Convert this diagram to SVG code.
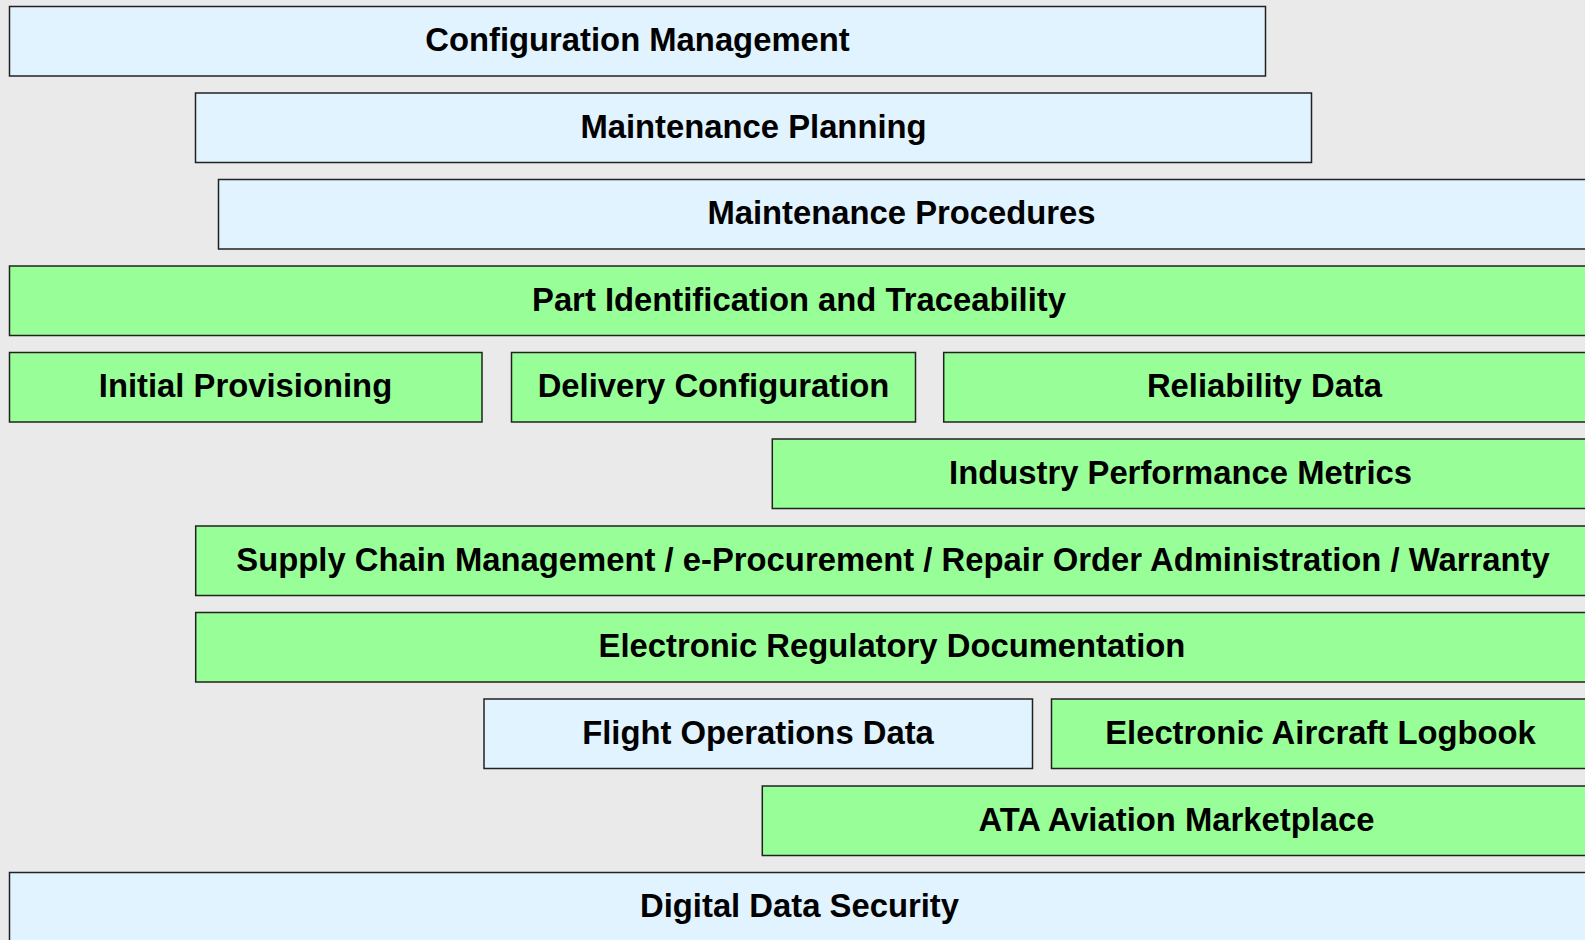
<svg xmlns="http://www.w3.org/2000/svg" width="1585" height="940" viewBox="0 0 1585 940">
<style>
.b{fill:#E0F3FE;stroke:#222;stroke-width:1.5}
.g{fill:#98FF98;stroke:#222;stroke-width:1.5}
text{font-family:"Liberation Sans",Arial,sans-serif;font-weight:bold;font-size:32.8px;fill:#000;text-anchor:middle}
</style>
<rect x="0" y="0" width="1585" height="940" fill="#EAEAEA"/>
<g id="config-mgmt"><rect class="b" x="9.5" y="6.5" width="1256" height="69.5"/><text x="637.5" y="51.3">Configuration Management</text></g>
<g id="maint-planning"><rect class="b" x="195.5" y="93" width="1116" height="69.5"/><text x="753.5" y="137.8">Maintenance Planning</text></g>
<g id="maint-procedures"><rect class="b" x="218.5" y="179.5" width="1371" height="69.5"/><text x="901.5" y="224.3">Maintenance Procedures</text></g>
<g id="part-id"><rect class="g" x="9.5" y="266" width="1580" height="69.5"/><text x="799" y="310.8">Part Identification and Traceability</text></g>
<g id="initial-prov"><rect class="g" x="9.5" y="352.5" width="472.5" height="69.5"/><text x="245.5" y="397.3">Initial Provisioning</text></g>
<g id="delivery-config"><rect class="g" x="511.5" y="352.5" width="404" height="69.5"/><text x="713.5" y="397.3">Delivery Configuration</text></g>
<g id="reliability"><rect class="g" x="943.7" y="352.5" width="646" height="69.5"/><text x="1264.5" y="397.3">Reliability Data</text></g>
<g id="ipm"><rect class="g" x="772.3" y="439" width="817" height="69.5"/><text x="1180.5" y="483.8">Industry Performance Metrics</text></g>
<g id="supply-chain"><rect class="g" x="195.7" y="526" width="1394" height="69.5"/><text x="893" y="570.8">Supply Chain Management / e-Procurement / Repair Order Administration / Warranty</text></g>
<g id="erd"><rect class="g" x="195.7" y="612.5" width="1394" height="69.5"/><text x="892" y="657.3">Electronic Regulatory Documentation</text></g>
<g id="flight-ops"><rect class="b" x="484" y="699" width="548.5" height="69.5"/><text x="758" y="743.8">Flight Operations Data</text></g>
<g id="eal"><rect class="g" x="1051.5" y="699" width="538" height="69.5"/><text x="1320.5" y="743.8">Electronic Aircraft Logbook</text></g>
<g id="ata-marketplace"><rect class="g" x="762.3" y="786" width="827" height="69.5"/><text x="1176.5" y="830.8">ATA Aviation Marketplace</text></g>
<g id="digital-security"><rect class="b" x="9.5" y="872.5" width="1580" height="75"/><text x="799.5" y="917.3">Digital Data Security</text></g>
<g id="connectors"/>
</svg>
